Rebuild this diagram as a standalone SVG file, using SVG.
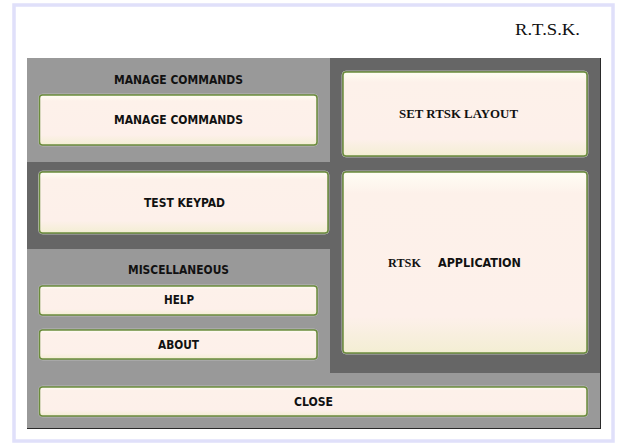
<svg xmlns="http://www.w3.org/2000/svg" width="620" height="443" viewBox="0 0 620 443">
<defs>
<linearGradient id="btn" x1="0" y1="0" x2="0" y2="1">
<stop offset="0" stop-color="#fffef4"/>
<stop offset="0.12" stop-color="#fdf1ea"/>
<stop offset="0.8" stop-color="#fdf0ea"/>
<stop offset="1" stop-color="#f3eed3"/>
</linearGradient>
<style>
.btn{fill:url(#btn);stroke:#6b8c3c;stroke-width:1.5}
.halo{fill:none;stroke:#b8b8b8;stroke-width:1}
.lbl{font-family:"DejaVu Sans Condensed","DejaVu Sans",sans-serif;font-weight:bold;font-size:12px;fill:#111;text-anchor:middle}
.ser{font-family:"Liberation Serif",serif;font-weight:bold;font-size:12.5px;fill:#111}
</style>
</defs>
<rect x="14" y="5" width="599" height="436" fill="#fff" stroke="#e0e0fa" stroke-width="3.5"/>
<text x="515" y="35" font-family="Liberation Serif, serif" font-size="16.5" fill="#111" textLength="65" lengthAdjust="spacingAndGlyphs">R.T.S.K.</text>
<g id="panel">
<rect x="27" y="58" width="574" height="371" fill="#2a2a2a"/>
<rect x="27" y="58" width="573" height="370" fill="#999"/>
<rect x="330" y="58" width="270" height="315" fill="#666"/>
<rect x="27" y="162" width="303" height="87" fill="#666"/>
</g>
<g id="manage-commands-group">
<text class="lbl" x="178.5" y="83.5" textLength="129" lengthAdjust="spacingAndGlyphs">MANAGE COMMANDS</text>
</g>
<g id="manage-commands">
<rect class="halo" x="38.5" y="94" width="279.5" height="52" rx="4"/>
<rect class="btn" x="39.5" y="95" width="277.5" height="50" rx="3"/>
<text class="lbl" x="178.5" y="124" textLength="129" lengthAdjust="spacingAndGlyphs">MANAGE COMMANDS</text>
</g>
<g id="set-rtsk-layout">
<rect class="halo" x="342" y="71" width="246" height="86" rx="4"/>
<rect class="btn" x="343" y="72" width="244" height="84" rx="3"/>
<text class="ser" x="399" y="118" textLength="119" lengthAdjust="spacingAndGlyphs">SET RTSK LAYOUT</text>
</g>
<g id="test-keypad">
<rect class="halo" x="38.5" y="171" width="290.5" height="63" rx="4"/>
<rect class="btn" x="39.5" y="172" width="288.5" height="61" rx="3"/>
<text class="lbl" x="184.5" y="207" textLength="81" lengthAdjust="spacingAndGlyphs">TEST KEYPAD</text>
</g>
<g id="rtsk-application">
<rect class="halo" x="342" y="171" width="246" height="183" rx="4"/>
<rect class="btn" x="343" y="172" width="244" height="181" rx="3"/>
<text y="267"><tspan class="ser" x="388" textLength="33" lengthAdjust="spacingAndGlyphs">RTSK</tspan><tspan class="lbl" x="479.5" textLength="83" lengthAdjust="spacingAndGlyphs">APPLICATION</tspan></text>
</g>
<g id="miscellaneous-group">
<text class="lbl" x="178.5" y="274" textLength="101" lengthAdjust="spacingAndGlyphs">MISCELLANEOUS</text>
</g>
<g id="help">
<rect class="halo" x="38.5" y="285" width="279.5" height="31" rx="4"/>
<rect class="btn" x="39.5" y="286" width="277.5" height="29" rx="3"/>
<text class="lbl" x="179" y="304" textLength="30" lengthAdjust="spacingAndGlyphs">HELP</text>
</g>
<g id="about">
<rect class="halo" x="38.5" y="329" width="279.5" height="31" rx="4"/>
<rect class="btn" x="39.5" y="330" width="277.5" height="29" rx="3"/>
<text class="lbl" x="178.5" y="349" textLength="41" lengthAdjust="spacingAndGlyphs">ABOUT</text>
</g>
<g id="close">
<rect class="halo" x="38.5" y="386" width="549.5" height="31" rx="4"/>
<rect class="btn" x="39.5" y="387" width="547.5" height="29" rx="3"/>
<text class="lbl" x="313.5" y="406" textLength="39" lengthAdjust="spacingAndGlyphs">CLOSE</text>
</g>
</svg>
